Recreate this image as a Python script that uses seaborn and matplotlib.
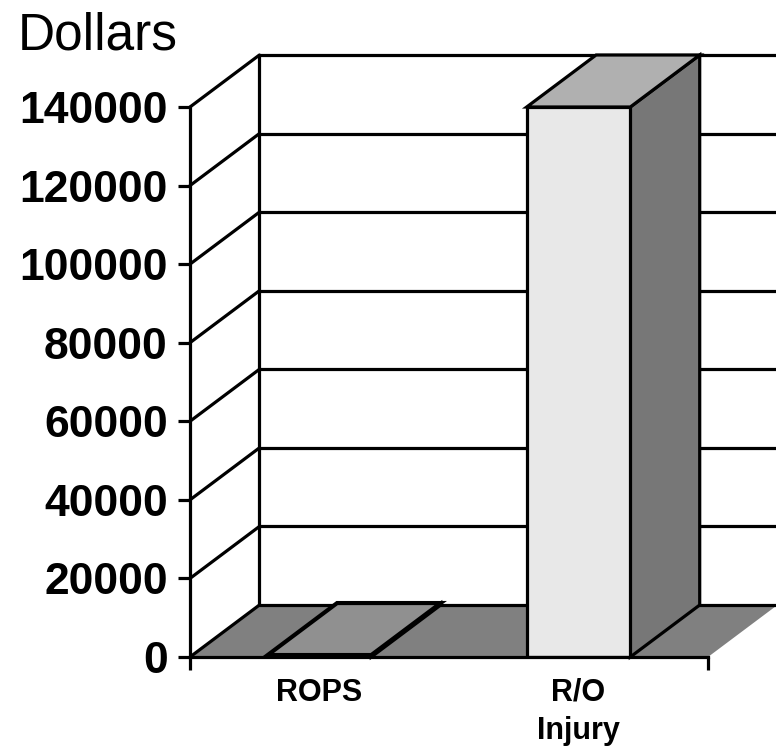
import numpy as np
import pandas as pd
import matplotlib
matplotlib.use("Agg")
import matplotlib.pyplot as plt
from matplotlib.patches import Polygon
import seaborn as sns

# data
categories = ["ROPS", "R/O\nInjury"]
values = [500, 140000]
yticks = [0, 20000, 40000, 60000, 80000, 100000, 120000, 140000]

sns.set_style("white")
plt.rcParams["font.family"] = ["Liberation Sans", "DejaVu Sans"]
plt.rcParams["text.color"] = "black"

fig = plt.figure(figsize=(7.76, 7.47), dpi=100)
ax = fig.add_axes([190 / 776, (747 - 657) / 747, 518 / 776, 550 / 747])

df = pd.DataFrame({"cat": categories, "val": values})
sns.barplot(data=df, x="cat", y="val", width=0.4, color="#E8E8E8",
            saturation=1, edgecolor="black", linewidth=2.3, ax=ax, zorder=5)

ax.set_xlim(-0.5, 1.5)
ax.set_ylim(0, 140000)

# 3D depth offset (category units, dollars)
DX = 0.268
DY = 52 * 140000 / 550
x0, x1 = -0.5, 1.5
lw = 2.3

# floor
floor = Polygon([(x0, 0), (x1, 0), (x1 + DX, DY), (x0 + DX, DY)],
                closed=True, facecolor="#808080", edgecolor="none",
                clip_on=False, zorder=2)
ax.add_patch(floor)
ax.plot([x0, x0 + DX], [0, DY], color="black", lw=lw, clip_on=False, zorder=3)

# back wall vertical + gridlines, left wall diagonals
ax.plot([x0 + DX, x0 + DX], [DY, 140000 + DY], color="black", lw=lw,
        clip_on=False, zorder=1)
for v in yticks:
    ax.plot([x0 + DX, x1 + DX], [v + DY, v + DY], color="black", lw=lw,
            clip_on=False, zorder=3 if v == 0 else 1)
    if v > 0:
        ax.plot([x0, x0 + DX], [v, v + DY], color="black", lw=lw,
                clip_on=False, zorder=1)

# top and side faces of the bars
for p, val in zip(ax.patches, values):
    bx, bw, bh = p.get_x(), p.get_width(), p.get_height()
    top = Polygon([(bx, bh), (bx + bw, bh), (bx + bw + DX, bh + DY), (bx + DX, bh + DY)],
                  closed=True, facecolor="#B0B0B0" if bh > 20000 else "#909090",
                  edgecolor="black", lw=lw if bh > 20000 else lw * 1.3,
                  clip_on=False, zorder=6)
    side = Polygon([(bx + bw, 0), (bx + bw, bh), (bx + bw + DX, bh + DY), (bx + bw + DX, DY)],
                   closed=True, facecolor="#777777", edgecolor="black", lw=lw,
                   clip_on=False, zorder=4)
    ax.add_patch(side)
    ax.add_patch(top)

# axes styling
for s in ["top", "right"]:
    ax.spines[s].set_visible(False)
for s in ["left", "bottom"]:
    ax.spines[s].set_linewidth(lw)
    ax.spines[s].set_color("black")
    ax.spines[s].set_zorder(7)
ax.set_yticks(yticks)
ax.set_yticklabels([str(v) for v in yticks], fontsize=32, fontweight="bold")
ax.tick_params(axis="y", length=9, width=lw, pad=7, direction="out", left=True,
               colors="black")
ax.set_xticks([x0, x1], minor=True)
ax.tick_params(axis="x", which="minor", length=9.5, width=lw, direction="out",
               bottom=True, colors="black")
ax.tick_params(axis="x", which="major", length=0, pad=15, labelcolor="black")
for t in ax.get_xticklabels():
    t.set_fontsize(22)
    t.set_fontweight("bold")
    t.set_linespacing(1.35)
ax.set_xlabel("")
ax.set_ylabel("")
ax.patch.set_visible(False)

fig.text(18 / 776, (747 - 50) / 747, "Dollars", fontsize=37, va="baseline",
         ha="left", color="black")

fig.savefig("out.png", dpi=100)
